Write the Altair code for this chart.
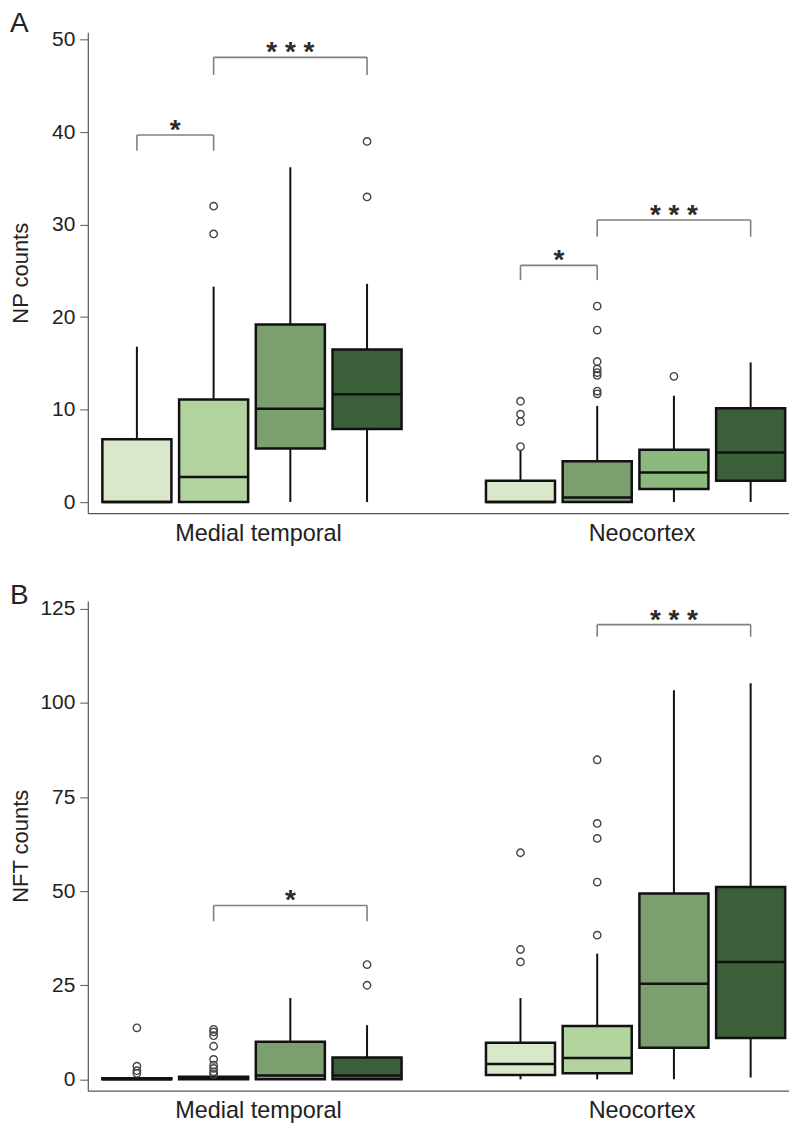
import altair as alt
import pandas as pd

FONT = "Liberation Sans"

# ---------------- data ----------------
GROUPS = ["Medial temporal", "Neocortex"]
SUBS = ["s1", "s2", "s3", "s4"]

# Panel A : NP counts (per box: MT s1..s4, NC s1..s4)
np_q1 = [0, 0, 5.8, 7.9, 0, 0, 1.4, 2.3]
np_med = [0, 2.7, 10.1, 11.65, 0, 0.5, 3.2, 5.35]
np_q3 = [6.8, 11.1, 19.2, 16.5, 2.3, 4.4, 5.65, 10.15]
np_lo = [0, 0, 0, 0, 0, 0, 0, 0]
np_hi = [16.8, 23.3, 36.2, 23.6, 5.6, 10.4, 11.5, 15.1]
np_out = [[], [32.0, 29.0], [], [39.0, 33.0],
          [6.0, 8.7, 9.5, 10.9],
          [21.2, 18.6, 15.2, 14.4, 14.0, 13.7, 12.0, 11.7],
          [13.6], []]
np_br_from = [0, 1, 4, 5]
np_br_to = [1, 3, 5, 7]
np_br_h = [39.7, 48.1, 25.6, 30.5]
np_br_leg = [38.0, 46.2, 24.0, 28.7]
np_br_lab = ["*", "* * *", "*", "* * *"]

# Panel B : NFT counts
nft_q1 = [0, 0, 0, 0, 1.15, 1.6, 8.4, 11.0]
nft_med = [0, 0.2, 1.0, 1.0, 4.1, 5.7, 25.4, 31.2]
nft_q3 = [0.3, 0.7, 10.0, 5.8, 9.7, 14.2, 49.4, 51.1]
nft_lo = [0, 0, 0, 0, 0, 0, 0, 0.5]
nft_hi = [0.5, 1.0, 21.6, 14.4, 21.6, 33.4, 103.4, 105.2]
nft_out = [[13.7, 3.5, 2.3, 1.6],
           [13.3, 12.6, 11.6, 8.8, 5.3, 3.8, 2.9, 2.0, 1.3],
           [], [30.5, 25.0],
           [60.2, 34.5, 31.2],
           [84.9, 68.0, 64.0, 52.4, 38.3],
           [], []]
nft_br_from = [1, 5]
nft_br_to = [3, 7]
nft_br_h = [46.2, 120.8]
nft_br_leg = [42.0, 117.6]
nft_br_lab = ["*", "* * *"]

# ---------------- style ----------------
C1, C2, C3, C3B, C4 = "#d9e8cb", "#b2d39e", "#7b9f6f", "#8bb97e", "#3b5f39"
FILL_A = [C1, C2, C3, C4, C1, C3, C3B, C4]
FILL_B = [C1, C2, C3, C4, C1, C2, C3, C4]

# box slot index along x (group gap of one empty slot)
SLOTS = [g * (len(SUBS) + 1) + s for g in range(len(GROUPS)) for s in range(len(SUBS))]
GROUP_CENTERS = [g * (len(SUBS) + 1) + (len(SUBS) - 1) / 2 for g in range(len(GROUPS))]

XSCALE = alt.Scale(domain=[-0.64, 8.5], nice=False, zero=False)
X_AXIS = alt.Axis(values=GROUP_CENTERS, ticks=False, grid=False, title=None,
                  labelExpr="datum.value < 4 ? 'Medial temporal' : 'Neocortex'",
                  labelFontSize=23.5, labelFont=FONT, labelColor="#222",
                  labelPadding=8, labelOffset=6, domainColor="#555", domainWidth=1.2)


def panel(letter, ytitle, q1, med, q3, lo, hi, outl, fills,
          bf, bt, bh, bleg, blab, ydom, yticks, height, toff):
    box = pd.DataFrame({"slot": SLOTS, "q1": q1, "med": med, "q3": q3,
                        "lo": lo, "hi": hi, "fill": fills})
    box["left"] = box["slot"] - 0.45
    box["right"] = box["slot"] + 0.45
    rows = [{"slot": SLOTS[i], "value": v} for i, vs in enumerate(outl) for v in vs]
    out = pd.DataFrame(rows)
    br = pd.DataFrame({"a": [SLOTS[i] for i in bf], "b": [SLOTS[i] for i in bt],
                       "h": bh, "leg": bleg, "lab": blab})
    br["mid"] = (br["a"] + br["b"]) / 2
    legs = pd.DataFrame({"x": list(br["a"]) + list(br["b"]),
                         "h": list(br["h"]) * 2, "leg": list(br["leg"]) * 2})

    ysc = alt.Scale(domain=ydom, nice=False, zero=False)
    yax = alt.Axis(values=yticks, grid=False, tickSize=8, tickColor="#555",
                   domainColor="#555", domainWidth=1.2, labelFontSize=21,
                   labelFont=FONT, labelColor="#222", labelPadding=5,
                   titleFont=FONT, titleFontSize=22, titleFontWeight="normal",
                   titleColor="#222", titlePadding=7, minExtent=48, maxExtent=48)

    def X(f):
        return alt.X(f, scale=XSCALE, axis=X_AXIS)

    def Y(f):
        return alt.Y(f, scale=ysc, axis=yax, title=ytitle)

    whisk = alt.Chart(box).mark_rule(color="#111", strokeWidth=2).encode(
        x=X("slot:Q"), y=Y("lo:Q"), y2="hi:Q")
    bars = alt.Chart(box).mark_bar(stroke="#111", strokeWidth=2.5).encode(
        x=X("left:Q"), x2="right:Q", y=Y("q1:Q"), y2="q3:Q",
        fill=alt.Fill("fill:N", scale=None))
    meds = alt.Chart(box).mark_rule(color="#111", strokeWidth=2.5).encode(
        x=X("left:Q"), x2="right:Q", y=Y("med:Q"))
    pts = alt.Chart(out).mark_point(shape="circle", filled=False, color="#444",
                                    strokeWidth=1.4, size=55, opacity=1).encode(
        x=X("slot:Q"), y=Y("value:Q"))
    hbar = alt.Chart(br).mark_rule(color="#808080", strokeWidth=1.6).encode(
        x=X("a:Q"), x2="b:Q", y=Y("h:Q"))
    lg = alt.Chart(legs).mark_rule(color="#808080", strokeWidth=1.6).encode(
        x=X("x:Q"), y=Y("leg:Q"), y2="h:Q")
    stars = alt.Chart(br).mark_text(font=FONT, fontSize=28, fontWeight="bold",
                                    color="#2a2a2a", baseline="alphabetic", dy=4).encode(
        x=X("mid:Q"), y=Y("h:Q"), text="lab:N")

    return alt.layer(whisk, bars, meds, pts, hbar, lg, stars).properties(
        width=703, height=height,
        title=alt.TitleParams(letter, anchor="start", frame="bounds", fontSize=28,
                              font=FONT, fontWeight="normal", color="#222", offset=toff))


pa = panel("A", "NP counts", np_q1, np_med, np_q3, np_lo, np_hi, np_out, FILL_A,
           np_br_from, np_br_to, np_br_h, np_br_leg, np_br_lab,
           [-1.2, 50.8], [0, 10, 20, 30, 40, 50], 482, -9)
pb = panel("B", "NFT counts", nft_q1, nft_med, nft_q3, nft_lo, nft_hi, nft_out, FILL_B,
           nft_br_from, nft_br_to, nft_br_h, nft_br_leg, nft_br_lab,
           [-3.0, 127.1], [0, 25, 50, 75, 100, 125], 491, -12)

chart = alt.vconcat(pa, pb, spacing=36).properties(
    padding={"left": 2, "top": 0, "right": 0, "bottom": 0}
).configure(background="white", view=alt.ViewConfig(stroke=None))

chart.save("out.html", embed_options={"renderer": "svg", "actions": False})
